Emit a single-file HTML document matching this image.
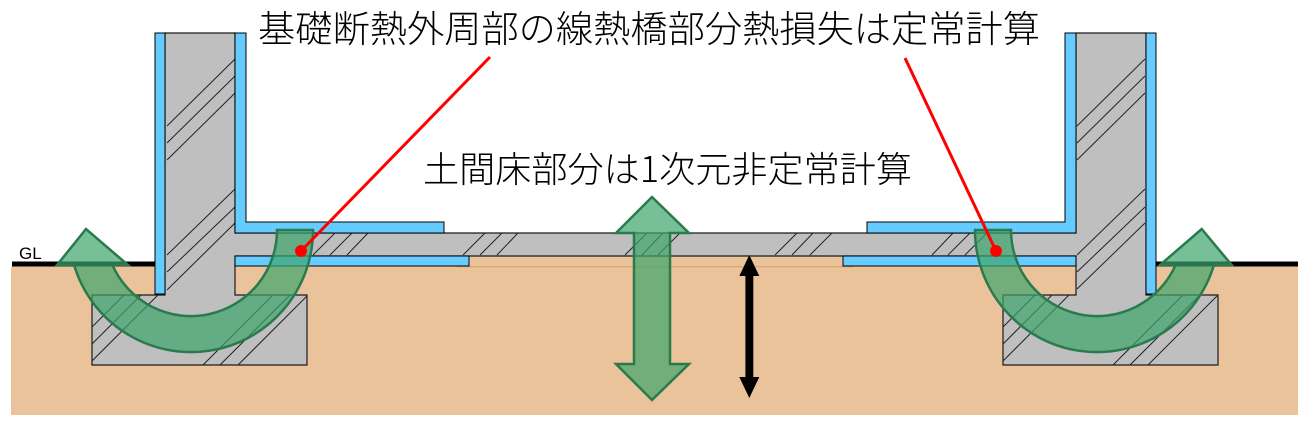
<!DOCTYPE html>
<html><head><meta charset="utf-8"><style>
html,body{margin:0;padding:0;background:#fff;}
svg{display:block;}
</style></head><body>
<svg width="1309" height="425" viewBox="0 0 1309 425" xmlns="http://www.w3.org/2000/svg">
<!-- soil -->
<rect x="11" y="266.5" width="1287" height="148.5" fill="#EBC39B"/>
<rect x="235" y="256" width="841" height="12" fill="#EBC39B"/>
<line x1="457" y1="266.7" x2="854" y2="266.7" stroke="#D9A06A" stroke-width="1"/>
<!-- GL line -->
<rect x="12" y="261.5" width="143" height="5" fill="#000"/>
<rect x="1156" y="261.5" width="142" height="5" fill="#000"/>
<text x="19" y="259" font-family="Liberation Sans, sans-serif" font-size="17" fill="#000">GL</text>
<!-- concrete structure -->
<path d="M165,33 L235,33 L235,233 L1076,233 L1076,33 L1146,33 L1146,295 L1218,295 L1218,365 L1003,365 L1003,295 L1076,295 L1076,256 L235,256 L235,295 L307,295 L307,365 L92,365 L92,295 L165,295 Z" fill="#BFBFBF" stroke="#1a1a1a" stroke-width="1.2"/>
<!-- hatching -->
<g stroke="#222" stroke-width="1">
<line x1="167" y1="126" x2="235" y2="59"/>
<line x1="167" y1="143" x2="235" y2="76"/>
<line x1="167" y1="160" x2="235" y2="93"/>
<line x1="167" y1="255" x2="235" y2="189"/>
<line x1="167" y1="272" x2="235" y2="207"/>
<line x1="167" y1="290" x2="235" y2="223"/>
<line x1="92" y1="327" x2="124" y2="295"/>
<line x1="92" y1="344" x2="141" y2="295"/>
<line x1="92" y1="361" x2="158" y2="295"/>
<line x1="203" y1="365" x2="273" y2="295"/>
<line x1="220" y1="365" x2="290" y2="295"/>
<line x1="238" y1="365" x2="307" y2="296"/>
<line x1="313" y1="255" x2="335" y2="233"/>
<line x1="330" y1="255" x2="352" y2="233"/>
<line x1="347" y1="255" x2="368" y2="233"/>
<line x1="463" y1="255" x2="485" y2="233"/>
<line x1="480" y1="255" x2="502" y2="233"/>
<line x1="497" y1="255" x2="518" y2="233"/>
<line x1="625" y1="255" x2="647" y2="233"/>
<line x1="642" y1="255" x2="663" y2="233"/>
<line x1="658" y1="255" x2="680" y2="233"/>
<line x1="775" y1="255" x2="797" y2="233"/>
<line x1="792" y1="255" x2="813" y2="233"/>
<line x1="810" y1="255" x2="832" y2="233"/>
<line x1="932" y1="255" x2="953" y2="233"/>
<line x1="948" y1="255" x2="970" y2="233"/>
<line x1="965" y1="255" x2="987" y2="233"/>
<line x1="1077" y1="126" x2="1145" y2="59"/>
<line x1="1077" y1="143" x2="1145" y2="76"/>
<line x1="1077" y1="160" x2="1145" y2="93"/>
<line x1="1077" y1="255" x2="1145" y2="189"/>
<line x1="1077" y1="272" x2="1145" y2="207"/>
<line x1="1077" y1="289" x2="1145" y2="223"/>
<line x1="1003" y1="327" x2="1035" y2="295"/>
<line x1="1003" y1="344" x2="1052" y2="295"/>
<line x1="1003" y1="361" x2="1069" y2="295"/>
<line x1="1113" y1="365" x2="1183" y2="295"/>
<line x1="1130" y1="365" x2="1200" y2="295"/>
<line x1="1148" y1="365" x2="1217" y2="296"/>
</g>
<!-- insulation -->
<g fill="#66CCFF" stroke="#000" stroke-width="1">
<rect x="155" y="33" width="10" height="261"/>
<path d="M235,33 L246,33 L246,222 L444,222 L444,233 L235,233 Z"/>
<rect x="235" y="256" width="234" height="10"/>
<path d="M1065,33 L1076,33 L1076,233 L867,233 L867,222 L1065,222 Z"/>
<rect x="1146" y="33" width="10" height="261"/>
<rect x="843" y="256" width="233" height="10"/>
</g>
<!-- green arrows -->
<g fill="rgba(61,165,107,0.7)" stroke="#2A7A4E" stroke-width="2.5" stroke-linejoin="miter">
<path d="M313,230 A122,122 0 0 1 74.1,265 L57,265 L86,229 L128,265 L112.4,265 A86,86 0 0 0 277,230 Z"/>
<path d="M975,230 A122,122 0 0 0 1213.9,265 L1231.7,265 L1201.7,229 L1160,265 L1175.6,265 A86,86 0 0 1 1011,230 Z"/>
<path d="M652,197 L689,233 L670,233 L670,364 L689,364 L652,400 L616,364 L634,364 L634,233 L616,233 Z"/>
</g>
<!-- black double arrow -->
<path d="M749.3,255 L759.3,276 L753.3,276 L753.3,377 L759.3,377 L749.3,398 L739.3,377 L745.4,377 L745.4,276 L739.3,276 Z" fill="#000"/>
<!-- red leaders -->
<g stroke="#FF0000" stroke-width="3" fill="#FF0000">
<line x1="490" y1="57" x2="301" y2="251"/>
<line x1="905" y1="58" x2="996" y2="251"/>
</g>
<circle cx="301" cy="251" r="6" fill="#FF0000"/>
<circle cx="996" cy="251" r="6" fill="#FF0000"/>
<!-- labels -->
<text x="258" y="42" font-family="Liberation Sans, 'Noto Sans CJK JP', sans-serif" font-size="37" font-weight="300" fill="#000" textLength="782" lengthAdjust="spacingAndGlyphs">基礎断熱外周部の線熱橋部分熱損失は定常計算</text>
<text x="423" y="182" font-family="Liberation Sans, 'Noto Sans CJK JP', sans-serif" font-size="36" font-weight="300" fill="#000" textLength="489" lengthAdjust="spacingAndGlyphs">土間床部分は<tspan font-family="'Noto Sans CJK JP', sans-serif">1</tspan>次元非定常計算</text>
</svg>
</body></html>
